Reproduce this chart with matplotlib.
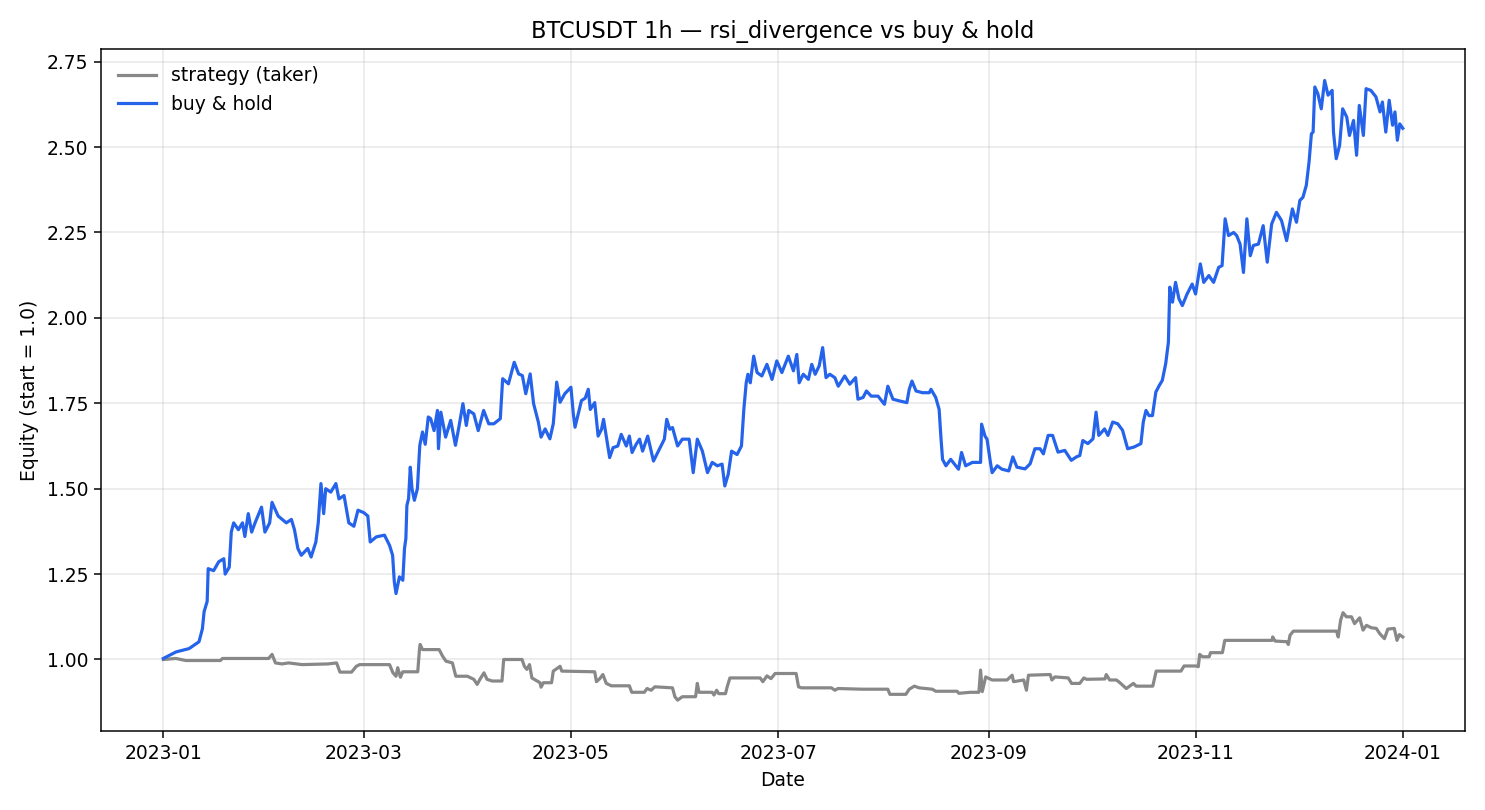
import matplotlib
matplotlib.use("Agg")
import matplotlib.pyplot as plt
import matplotlib.dates as mdates
import pandas as pd

plt.rcParams['font.family'] = ['DejaVu Sans']

START = "2023-01-01"
TITLE = "BTCUSDT 1h — rsi_divergence vs buy & hold"
LABEL_STRATEGY = "strategy (taker)"
LABEL_BH = "buy & hold"

# buy & hold equity: days since start, value
bh_day = [0, 3.7, 7.6, 10.5, 11.5, 12, 12.9, 13.2, 14.8, 16.3, 17.8, 18.2, 19.4, 20, 20.7, 22.1, 23.3, 24, 25, 26, 27,
          28.9, 29.9, 31.3, 32, 33.8, 36.2, 37.7, 38.6, 39.6, 40.6, 42.5, 43.5, 44.9, 45.6, 46.4, 47.2, 47.8, 49.3, 50.8,
          51.7, 53.2, 54.6, 56.1, 57.3, 59, 60.2, 60.9, 62.7, 65.1, 66.6, 67.5, 68, 68.5, 69.5, 70.5, 71, 71.4, 71.7,
          72.2, 72.7, 73.2, 73.9, 74.8, 75.5, 76.3, 77.1, 78, 78.7, 79.7, 80.7, 81, 81.7, 83.1, 84.6, 86, 87, 88.2, 89.2,
          89.9, 91.4, 92.7, 94.3, 95.8, 97.3, 99.2, 99.9, 101.6, 103.3, 104.6, 105.7, 106.7, 108, 109, 110.4, 111.2,
          112.4, 113.8, 114.8, 115.8, 116.8, 118.2, 120, 120.7, 121.2, 123.1, 124.2, 125.1, 125.7, 127, 128, 129, 129.6,
          130.4, 131.4, 132.4, 133.8, 134.8, 136.3, 137.2, 138, 139.2, 140.2, 141.1, 142.6, 144.3, 146, 147.5, 148.2,
          149.1, 149.9, 151.4, 152.8, 154.8, 156, 157.2, 158.7, 160.2, 161.6, 163.1, 164.5, 165.3, 166.3, 167.3, 168.9,
          170.2, 170.9, 171.6, 172.1, 172.8, 173.8, 174.8, 176.2, 177.7, 179.2, 180.6, 182.1, 184, 185.5, 186.5, 187.2,
          188.4, 189.9, 190.9, 191.9, 193.1, 194.1, 195.1, 196.2, 197.7, 198.7, 200.6, 202.1, 203.8, 204.5, 206, 207,
          208.4, 210.4, 212.3, 213.3, 214.8, 216.7, 218.9, 219.6, 220.4, 221.6, 223.5, 225.5, 226, 227.4, 228.4, 228.9,
          229.4, 230.4, 231.8, 234.1, 235, 236.2, 238.2, 240.6, 240.9, 241.9, 242.5, 243.5, 244, 245.5, 246.9, 248.9,
          250.1, 251.3, 253.7, 255.2, 256.6, 258.1, 259.1, 260.5, 261.8, 263.4, 265.4, 267.3, 268.8, 269.8, 270.7,
          272.2, 273.7, 274.6, 275.4, 277.1, 278.1, 279.5, 281, 282.4, 283.9, 285.8, 287.8, 288.5, 289.3, 290.2, 291.2,
          292.2, 293.2, 294.1, 295.1, 295.9, 296.1, 296.3, 297.1, 298, 299, 300, 301.4, 302.9, 303.9, 305.3, 306.3,
          307.8, 309.2, 310.7, 311.7, 312.6, 313.6, 315.1, 316, 317, 318, 319, 320, 320.9, 322.4, 323.8, 325, 326.3,
          327.7, 329.2, 330.7, 332.4, 333.6, 334.6, 335.5, 336.5, 337.3, 338, 338.5, 339, 339.9, 340.9, 341.9, 342.9,
          344.1, 344.5, 345.3, 346.3, 347.2, 348.4, 349.2, 350.4, 351.3, 352.1, 353.3, 354.1, 355.5, 357, 358.2, 358.9,
          359.9, 360.9, 361.9, 362.6, 363.3, 364, 364.9]
bh_val = [1.003, 1.022, 1.032, 1.052, 1.09, 1.14, 1.17, 1.266, 1.26, 1.286, 1.295, 1.25, 1.27, 1.373, 1.40, 1.38, 1.40,
          1.36, 1.427, 1.373, 1.40, 1.446, 1.373, 1.40, 1.46, 1.42, 1.40, 1.41, 1.38, 1.325, 1.305, 1.325, 1.30, 1.344,
          1.40, 1.515, 1.427, 1.50, 1.49, 1.515, 1.47, 1.48, 1.40, 1.39, 1.437, 1.43, 1.42, 1.344, 1.359, 1.364, 1.334,
          1.305, 1.227, 1.193, 1.242, 1.232, 1.325, 1.354, 1.451, 1.471, 1.563, 1.50, 1.466, 1.50, 1.627, 1.666, 1.63,
          1.71, 1.705, 1.67, 1.729, 1.617, 1.724, 1.651, 1.70, 1.627, 1.68, 1.749, 1.685, 1.729, 1.719, 1.67, 1.729,
          1.69, 1.69, 1.705, 1.822, 1.807, 1.87, 1.836, 1.831, 1.778, 1.836, 1.749, 1.695, 1.651, 1.675, 1.646, 1.69,
          1.812, 1.753, 1.778, 1.797, 1.719, 1.68, 1.758, 1.765, 1.791, 1.732, 1.752, 1.654, 1.674, 1.703, 1.654,
          1.591, 1.62, 1.625, 1.659, 1.625, 1.654, 1.606, 1.63, 1.645, 1.61, 1.654, 1.581, 1.615, 1.645, 1.703, 1.674,
          1.679, 1.625, 1.645, 1.645, 1.547, 1.645, 1.61, 1.547, 1.577, 1.567, 1.572, 1.508, 1.542, 1.61, 1.60, 1.625,
          1.732, 1.81, 1.835, 1.81, 1.888, 1.84, 1.83, 1.864, 1.82, 1.874, 1.84, 1.888, 1.845, 1.893, 1.81, 1.835,
          1.82, 1.864, 1.835, 1.86, 1.913, 1.825, 1.835, 1.825, 1.80, 1.83, 1.806, 1.825, 1.762, 1.767, 1.786, 1.771,
          1.771, 1.747, 1.80, 1.762, 1.757, 1.752, 1.791, 1.815, 1.786, 1.781, 1.781, 1.791, 1.767, 1.732, 1.654,
          1.586, 1.567, 1.586, 1.557, 1.606, 1.567, 1.577, 1.577, 1.689, 1.654, 1.645, 1.577, 1.547, 1.567, 1.557,
          1.552, 1.593, 1.563, 1.558, 1.573, 1.617, 1.617, 1.602, 1.656, 1.656, 1.607, 1.612, 1.583, 1.593, 1.597,
          1.641, 1.632, 1.646, 1.724, 1.656, 1.675, 1.656, 1.695, 1.69, 1.671, 1.617, 1.622, 1.632, 1.695, 1.729,
          1.714, 1.714, 1.783, 1.802, 1.817, 1.866, 1.929, 2.007, 2.09, 2.046, 2.104, 2.056, 2.036, 2.07, 2.099, 2.07,
          2.158, 2.104, 2.124, 2.104, 2.148, 2.153, 2.29, 2.241, 2.25, 2.241, 2.216, 2.133, 2.29, 2.182, 2.212, 2.216,
          2.27, 2.163, 2.275, 2.309, 2.285, 2.226, 2.319, 2.28, 2.344, 2.353, 2.388, 2.456, 2.539, 2.544, 2.676, 2.656,
          2.612, 2.695, 2.652, 2.666, 2.544, 2.466, 2.505, 2.612, 2.588, 2.534, 2.578, 2.476, 2.622, 2.534, 2.671,
          2.666, 2.647, 2.603, 2.632, 2.544, 2.637, 2.564, 2.603, 2.52, 2.568, 2.555]

# strategy equity: days since start, value
st_day = [0, 3.7, 6.6, 16.8, 17.4, 31, 32, 33, 34.9, 36.9, 40.8, 48.5, 51, 52, 55.4, 56.8, 57.8, 66.6, 67.6, 68.5, 69,
          69.8, 70.5, 74.9, 75.4, 75.6, 76.3, 81.2, 82.2, 83.2, 85.1, 86.1, 89.5, 91.4, 92.4, 93.2, 94.4, 95.3, 96.8,
          99.7, 100.2, 105.6, 106.3, 107, 107.8, 108.5, 110.9, 111.2, 111.9, 114.3, 114.8, 116.8, 117.3, 127, 127.5,
          128.5, 129.4, 130.4, 131.9, 137.2, 137.9, 141.6, 142.4, 143.6, 144.7, 149.9, 150.6, 151.4, 152.8, 156.7,
          157.2, 157.7, 161.6, 162.1, 162.9, 163.5, 165.5, 166, 166.8, 175.7, 176.5, 177.7, 178.9, 180.1, 186.3, 187,
          187.9, 196.7, 197.7, 198.6, 205.9, 213.3, 213.9, 218.6, 219.6, 221.1, 222.5, 226.4, 227.4, 233.7, 234.2,
          237.6, 240.1, 240.6, 241.1, 242.1, 244, 248.4, 249.9, 250.3, 253.3, 254.1, 254.7, 261.1, 261.6, 262.5, 266.4,
          267.4, 269.8, 271, 271.8, 277.2, 277.6, 278.6, 280.6, 281.5, 283.5, 285.6, 286.4, 291.3, 292.3, 299.6, 300.5,
          304, 304.7, 305.1, 305.9, 307.9, 308.3, 311.8, 312.5, 326.4, 326.6, 327.3, 330.8, 331.2, 331.7, 332.7, 345.4,
          345.9, 346.6, 347.3, 348.3, 349.8, 350.7, 352.2, 353.2, 354.2, 355.6, 357.1, 358.1, 359.5, 360.5, 362.4,
          363.2, 363.9, 364.9]
st_val = [1.0, 1.003, 0.997, 0.997, 1.003, 1.003, 1.015, 0.99, 0.987, 0.99, 0.985, 0.987, 0.99, 0.963, 0.963, 0.98,
          0.985, 0.985, 0.961, 0.951, 0.976, 0.948, 0.964, 0.964, 1.029, 1.044, 1.029, 1.029, 1.01, 0.995, 0.99, 0.951,
          0.951, 0.942, 0.927, 0.942, 0.961, 0.942, 0.937, 0.937, 1.0, 1.0, 0.98, 0.971, 0.985, 0.946, 0.932, 0.919,
          0.932, 0.932, 0.966, 0.98, 0.966, 0.964, 0.935, 0.944, 0.956, 0.93, 0.923, 0.923, 0.904, 0.904, 0.915, 0.91,
          0.92, 0.917, 0.891, 0.881, 0.891, 0.891, 0.93, 0.904, 0.904, 0.896, 0.91, 0.9, 0.9, 0.92, 0.946, 0.946,
          0.935, 0.952, 0.944, 0.959, 0.959, 0.92, 0.917, 0.917, 0.91, 0.915, 0.913, 0.913, 0.898, 0.898, 0.913,
          0.922, 0.917, 0.913, 0.907, 0.907, 0.901, 0.904, 0.904, 0.969, 0.906, 0.949, 0.94, 0.94, 0.954, 0.935, 0.94,
          0.91, 0.954, 0.956, 0.94, 0.949, 0.946, 0.93, 0.93, 0.946, 0.942, 0.943, 0.956, 0.94, 0.94, 0.933, 0.915,
          0.93, 0.922, 0.922, 0.966, 0.966, 0.981, 0.981, 0.979, 1.015, 1.008, 1.008, 1.02, 1.02, 1.056, 1.056, 1.066,
          1.054, 1.052, 1.044, 1.071, 1.083, 1.083, 1.066, 1.115, 1.137, 1.125, 1.125, 1.105, 1.122, 1.086, 1.10,
          1.093, 1.091, 1.076, 1.061, 1.089, 1.091, 1.056, 1.073, 1.066]

start = pd.Timestamp(START)
bh_t = start + pd.to_timedelta(bh_day, unit="D")
st_t = start + pd.to_timedelta(st_day, unit="D")

fig, ax = plt.subplots(figsize=(11, 6), dpi=135)
ax.plot(st_t, st_val, color="#888888", lw=1.7, label=LABEL_STRATEGY)
ax.plot(bh_t, bh_val, color="#2563eb", lw=1.7, label=LABEL_BH)

ax.set_title(TITLE)
ax.set_xlabel("Date")
ax.set_ylabel("Equity (start = 1.0)")
ax.xaxis.set_major_locator(mdates.MonthLocator(bymonth=[1, 3, 5, 7, 9, 11]))
ax.xaxis.set_major_formatter(mdates.DateFormatter("%Y-%m"))
ax.grid(True, alpha=0.3)
ax.legend(loc="upper left", frameon=False)
fig.tight_layout()
fig.savefig("out.png", dpi=135)
